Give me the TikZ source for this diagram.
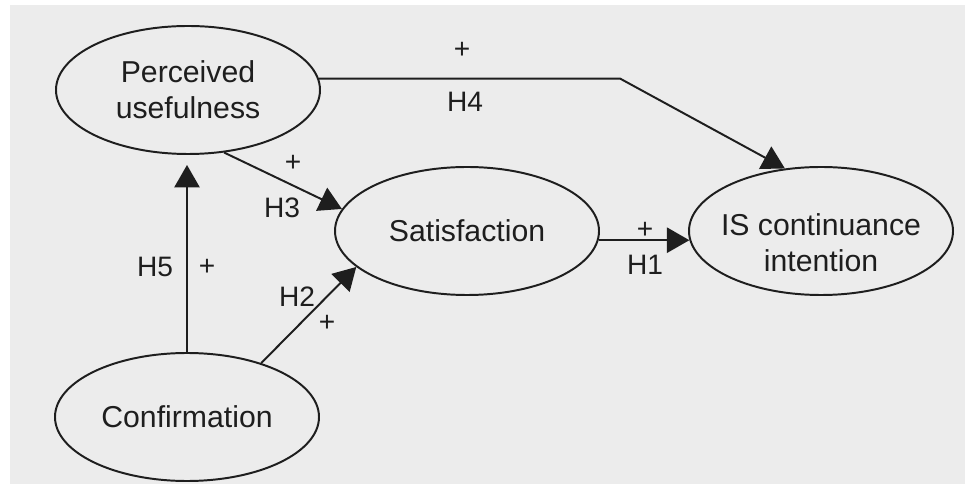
\documentclass[tikz,border=0pt]{standalone}
\usepackage{fontspec}
\setmainfont{Liberation Sans}
\usepackage{xcolor}
\usetikzlibrary{arrows.meta, positioning, shapes.geometric}

\definecolor{scangray}{RGB}{236,236,236}
\definecolor{inkgray}{RGB}{30,30,30}

\tikzset{
  construct/.style={draw=inkgray, ellipse, line width=1.4pt,
    minimum width=6.6cm, minimum height=3.2cm, inner sep=0pt},
  ctext/.style={text=inkgray, font=\fontsize{21.5}{25.6}\selectfont, align=center},
  hyp/.style={text=inkgray, font=\fontsize{20}{24}\selectfont, inner sep=0pt},
  link/.style={draw=inkgray, line width=1.4pt, -{Triangle[length=16pt, width=18pt]}}
}

\begin{document}
\begin{tikzpicture}
      \useasboundingbox (0,0) rectangle (24.375,12.125);
      \fill[scangray] (0.25,0.025) rectangle (24.125,12.0);

      % constructs
      \node[construct, label={[ctext]center:Perceived\\usefulness}] (pu) at (4.70,9.875) {};
      \node[construct, label={[ctext]center:Satisfaction}] (sat) at (11.675,6.35) {};
      \node[construct, label={[ctext, yshift=-0.3cm]center:IS continuance\\intention}] (is) at (20.525,6.35) {};
      \node[construct, label={[ctext]center:Confirmation}] (conf) at (4.675,1.70) {};

      % hypotheses
      \coordinate (h4bend) at (15.5,10.175);
      \draw[link] (pu.5) -- (pu.5 -| h4bend) -- (is.120);
      \draw[link] (pu.-60) -- (sat.170);
      \draw[link, shorten >=0.25cm] (conf.north) -- (conf.north |- pu.south);
      \draw[link] (conf.36) -- (sat.198);
      \draw[link] (sat.-4) -- (is.184);

      \node[hyp] (h4p) at (11.55,10.875) {+};
      \node[hyp] (h4) at (11.625,9.575) {H4};
      \node[hyp] (h3p) at (7.325,8.05) {+};
      \node[hyp] (h3) at (7.05,6.925) {H3};
      \node[hyp] (h5) at (3.875,5.45) {H5};
      \node[hyp] (h5p) at (5.175,5.45) {+};
      \node[hyp] (h2) at (7.425,4.70) {H2};
      \node[hyp] (h2p) at (8.175,4.05) {+};
      \node[hyp] (h1p) at (16.125,6.375) {+};
      \node[hyp] (h1) at (16.125,5.5) {H1};
\end{tikzpicture}
\end{document}
